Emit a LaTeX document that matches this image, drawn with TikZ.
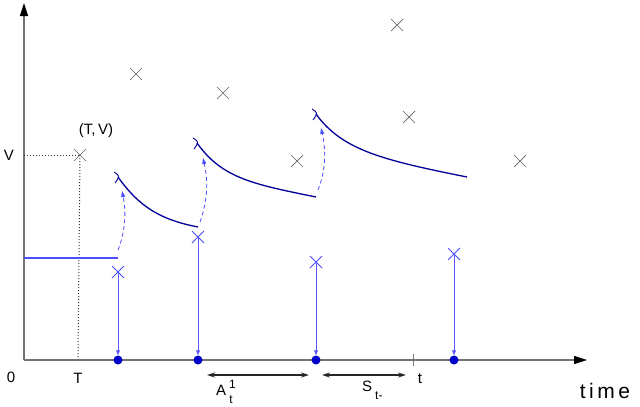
\documentclass[tikz,border=0pt]{standalone}
\usepackage{fontspec}
\setmainfont{Liberation Sans}
\usetikzlibrary{arrows.meta}
\begin{document}
\begin{tikzpicture}[x=1pt,y=-1pt,
  axis/.style={draw=gray!90!black,line width=1.2pt},
  gcross/.style={draw=gray!75!black,line width=0.7pt},
  bcross/.style={draw=blue!70,line width=0.8pt},
  decay/.style={draw=blue!60!black,line width=1.3pt},
  jump/.style={draw=blue!70,line width=0.8pt,dashed,dash pattern=on 4pt off 3pt,-{Triangle[length=6pt,width=4pt]}},
  drop/.style={draw=blue!65,line width=0.8pt,-{Triangle[length=5pt,width=4pt]}},
  evdot/.style={circle,fill=blue!80!black,inner sep=0pt,minimum size=9pt},
  span/.style={draw=black!85,line width=1.2pt,{Stealth[length=8pt,width=5pt]}-{Stealth[length=8pt,width=5pt]}},
  lbl/.style={font=\fontsize{15}{17}\selectfont,inner sep=0pt},
  pt/.style={inner sep=0pt,minimum size=0pt}
]
\useasboundingbox (0,0) rectangle (640,407);
% axes
\coordinate (O) at (24,360);
\coordinate (ytop) at (24,3);
\coordinate (xend) at (587,360);
\draw[axis,-{Triangle[length=13pt,width=8pt,color=black]}] (O) -- (ytop);
\draw[axis,-{Triangle[length=13pt,width=8pt,color=black]}] (O) -- (xend);
\node[lbl] (zero) at (11,377) {0};
\node[lbl] (Tlab) at (78,378) {T};
\node[lbl,font=\fontsize{21}{23}\selectfont] (time) at (605,391) {t\,i\,m\,e};
\node[lbl] (Vlab) at (9,155) {V};
% (T,V)
\node[pt] (TV) at (80,155) {};
\node[lbl] (TVlab) at (96,131) {(T,\,V)};
\coordinate (Vax) at (24,155);
\coordinate (Tax) at (78,357);
\draw[dotted,line width=1pt,black!80] (Vax) -- (TV);
\draw[dotted,line width=1pt,black!80] (TV) -- (Tax);
% gray crosses
\foreach \n/\x/\y in {TV/80/155, g1/136/74, g2/223/93, g3/297/161, g4/397/25, g5/409/117, g6/520/161}{
  \node[pt] (\n) at (\x,\y) {};
  \draw[gcross] (\x-6,\y-6) -- (\x+6,\y+6) (\x-6,\y+6) -- (\x+6,\y-6);
}
% initial level
\coordinate (L0) at (24,258);
\coordinate (L1) at (118,258);
\draw[decay,line width=1.1pt,blue!70] (L0) -- (L1);
% blue crosses, drops and dots
\foreach \n/\x/\y in {b1/118/272, b2/198/237, b3/316/262, b4/454/254}{
  \node[pt] (\n) at (\x,\y) {};
  \draw[bcross] (\x-6,\y-6) -- (\x+6,\y+6) (\x-6,\y+6) -- (\x+6,\y-6);
  \node[evdot] (d\n) at (\x,360) {};
  \draw[drop] (\n) -- (d\n.north);
}
% tick t
\coordinate (tk1) at (413,354);
\coordinate (tk2) at (413,366);
\draw[gray!90!black,line width=1pt] (tk1) -- (tk2);
\node[lbl] (tlab) at (420,379) {t};
% spans
\coordinate (a1) at (207,375);
\coordinate (a2) at (309,375);
\coordinate (s1) at (322,375);
\coordinate (s2) at (406,375);
\draw[span] (a1) -- (a2);
\draw[span] (s1) -- (s2);
\node[lbl,anchor=west] (Alab) at (216,392) {A\kern3pt\raisebox{7pt}{\fontsize{12}{12}\selectfont 1}\kern-6.5pt\raisebox{-8pt}{\fontsize{12}{12}\selectfont t}};
\node[lbl,anchor=west] (Slab) at (362,390) {S\kern3pt\raisebox{-8pt}{\fontsize{12}{12}\selectfont t-}};
% decay curves
\coordinate (c1s) at (118,177);
\coordinate (c1e) at (198,227);
\coordinate (c2s) at (197,143);
\coordinate (c2e) at (316,197);
\coordinate (c3s) at (316,114);
\coordinate (c3e) at (467,177);
\draw[decay] (c1s) .. controls (140,208) and (162,220) .. (c1e);
\draw[decay] (c2s) .. controls (222,178) and (252,184) .. (c2e);
\draw[decay] (c3s) .. controls (342,150) and (382,160) .. (c3e);
% hooks at curve starts
\foreach \c in {c1s,c2s,c3s}{
  \draw[blue!60!black,line width=0.9pt] ([shift={(-4,-5)}]\c) .. controls ([shift={(2,-1)}]\c) .. ([shift={(-3,6)}]\c);
}
% jumps
\coordinate (j1a) at (118,250);
\coordinate (j1b) at (122,191);
\coordinate (j2a) at (200,222);
\coordinate (j2b) at (203,158);
\coordinate (j3a) at (318,190);
\coordinate (j3b) at (321,128);
\draw[jump] (j1a) .. controls (126,230) and (126,210) .. (j1b);
\draw[jump] (j2a) .. controls (208,200) and (208,180) .. (j2b);
\draw[jump] (j3a) .. controls (326,170) and (326,150) .. (j3b);
\end{tikzpicture}
\end{document}
